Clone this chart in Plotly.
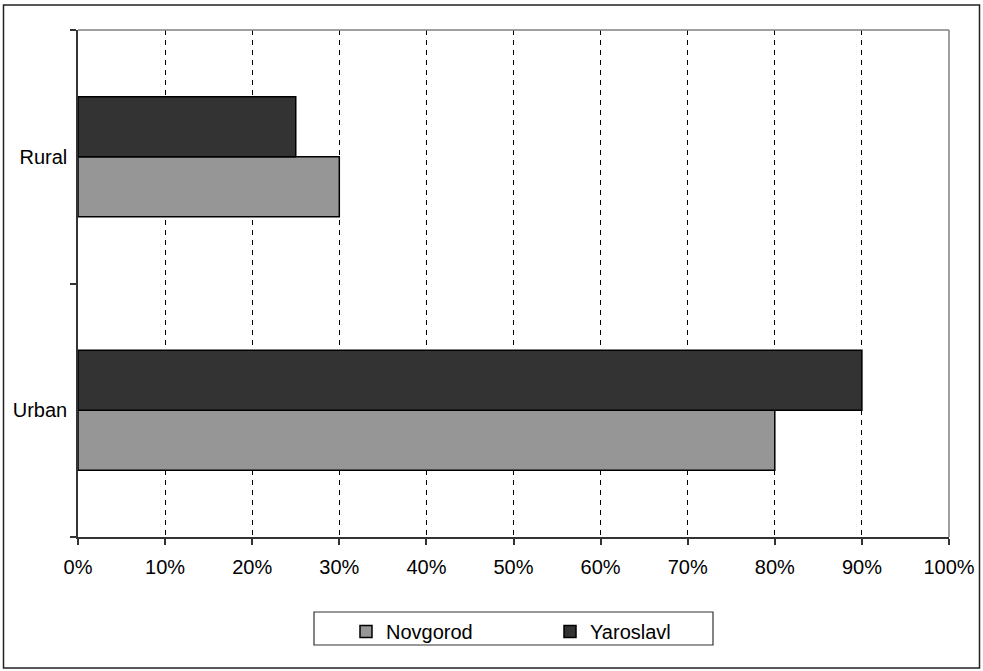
import plotly.graph_objects as go

# Share of respondents by settlement type and region
categories = ["Urban", "Rural"]
novgorod = [0.80, 0.30]
yaroslavl = [0.90, 0.25]
x_ticks = [i / 10 for i in range(11)]
x_tick_labels = [f"{i * 10}%" for i in range(11)]

W, H = 983, 671
ML, MR, MT, MB = 78, 34, 30, 134
PW, PH = W - ML - MR, H - MT - MB


def px_x(px):
    return (px - ML) / PW


def px_y(py):
    return (H - MB - py) / PH


FONT = "Liberation Sans, Arial, sans-serif"

fig = go.Figure()
fig.add_trace(go.Bar(
    y=categories, x=novgorod, orientation="h", name="Novgorod",
    marker=dict(color="#969696", line=dict(color="#000000", width=1.5)),
))
fig.add_trace(go.Bar(
    y=categories, x=yaroslavl, orientation="h", name="Yaroslavl",
    marker=dict(color="#333333", line=dict(color="#000000", width=1.5)),
))

fig.update_layout(
    width=W, height=H,
    margin=dict(l=ML, r=MR, t=MT, b=MB, autoexpand=False),
    paper_bgcolor="white", plot_bgcolor="white",
    barmode="group", bargap=0.527, bargroupgap=0,
    font=dict(family=FONT, size=20, color="#000000"),
    showlegend=True,
    legend=dict(
        orientation="h", x=px_x(346), xanchor="left",
        y=px_y(612), yanchor="top",
        bgcolor="rgba(0,0,0,0)", borderwidth=0,
        entrywidth=159, entrywidthmode="pixels",
        font=dict(family=FONT, size=20, color="#000000"),
        itemclick=False,
    ),
    xaxis=dict(
        range=[0, 1], tickvals=x_ticks, ticktext=x_tick_labels,
        showgrid=True, gridcolor="#000000", gridwidth=1, griddash="5px,5px",
        showline=True, linecolor="#333333", linewidth=1.5,
        ticks="outside", ticklen=6, tickcolor="#333333", tickwidth=1.5,
        ticklabelstandoff=5, automargin=False,
        zeroline=False, fixedrange=True,
    ),
    yaxis=dict(
        categoryorder="array", categoryarray=categories,
        showgrid=False, showline=True, linecolor="#333333", linewidth=1.5,
        ticks="outside", ticklen=6, tickcolor="#333333", tickwidth=1.5,
        tickson="boundaries", ticklabelstandoff=5, automargin=False,
        zeroline=False, fixedrange=True,
    ),
    shapes=[
        # plot-area frame on the top and right edges
        dict(type="line", xref="paper", yref="paper", x0=0, x1=1, y0=1, y1=1,
             line=dict(color="#808080", width=1.5), layer="above"),
        dict(type="line", xref="paper", yref="paper", x0=1, x1=1, y0=0, y1=1,
             line=dict(color="#808080", width=1.5), layer="above"),
        # legend box
        dict(type="rect", xref="paper", yref="paper",
             x0=px_x(314), x1=px_x(713), y0=px_y(645), y1=px_y(612),
             line=dict(color="#333333", width=1.2), fillcolor="rgba(0,0,0,0)"),
        # outer chart border
        dict(type="rect", xref="paper", yref="paper",
             x0=px_x(3.5), x1=px_x(979.5), y0=px_y(668), y1=px_y(5),
             line=dict(color="#222222", width=1.5), fillcolor="rgba(0,0,0,0)"),
    ],
)

fig.write_html("out.html", config=dict(displayModeBar=False))
